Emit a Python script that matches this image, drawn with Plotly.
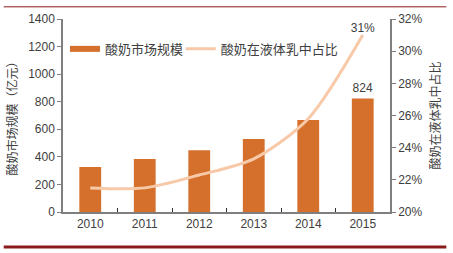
import plotly.graph_objects as go

years = ["2010", "2011", "2012", "2013", "2014", "2015"]
market_size = [327, 384, 448, 530, 668, 824]          # 亿元
share_pct = [21.5, 21.5, 22.3, 23.3, 25.8, 31.0]        # %

bar_name = "酸奶市场规模"
line_name = "酸奶在液体乳中占比"
left_title = "酸奶市场规模（亿元）"
right_title = "酸奶在液体乳中占比"

BAR_COLOR = "#D4702B"
LINE_COLOR = "#F8C9A8"
TXT = "#404040"
AX = "#7F7F7F"
CJK = "Noto Sans CJK SC"
LAT = "Liberation Sans, Arial"

bar_text = ["" for _ in market_size[:-1]] + [str(market_size[-1])]
line_text = ["" for _ in share_pct[:-1]] + [f"{share_pct[-1]:.0f}%"]

fig = go.Figure()
fig.add_trace(go.Bar(
    x=years, y=market_size, width=0.4, marker_color=BAR_COLOR,
    marker_line_width=0, showlegend=False, text=bar_text,
    textposition="outside", textfont=dict(family=LAT, size=12, color=TXT),
    cliponaxis=False, yaxis="y"))
fig.add_trace(go.Scatter(
    x=years, y=share_pct, mode="lines+text", line=dict(color=LINE_COLOR, width=3, shape="spline", smoothing=0.8),
    text=line_text, textposition="top center", textfont=dict(family=LAT, size=12, color=TXT),
    cliponaxis=False, showlegend=False, yaxis="y2"))
# legend entries
fig.add_trace(go.Scatter(x=[None], y=[None], mode="lines", name=bar_name,
                         line=dict(color=BAR_COLOR, width=6), yaxis="y", legend="legend"))
fig.add_trace(go.Scatter(x=[None], y=[None], mode="lines", name=line_name,
                         line=dict(color=LINE_COLOR, width=3), yaxis="y2", legend="legend2"))

leg_common = dict(orientation="h", y=0.845, xanchor="left", yanchor="middle",
                  bgcolor="rgba(0,0,0,0)", itemwidth=30,
                  font=dict(family=CJK, size=13, color=TXT))

fig.update_layout(
    width=453, height=253,
    margin=dict(l=60, r=62, t=14, b=41),
    paper_bgcolor="white", plot_bgcolor="white",
    bargap=0.6,
    font=dict(family=LAT, size=12, color=TXT),
    xaxis=dict(type="category", showline=True, linecolor=AX, linewidth=1.5,
               ticks="inside", ticklen=4, tickcolor="#333", tickson="boundaries",
               tickfont=dict(family=LAT, size=12, color=TXT), showgrid=False),
    yaxis=dict(range=[0, 1400], dtick=200, showline=True, linecolor=AX, linewidth=1.5,
               ticks="outside", ticklen=4, tickcolor=AX, showgrid=False, zeroline=False,
               tickfont=dict(family=LAT, size=12, color=TXT),
               title=dict(text=left_title, font=dict(family=CJK, size=12, color=TXT), standoff=8)),
    yaxis2=dict(range=[20, 32], dtick=2, overlaying="y", side="right", showline=True,
                linecolor=AX, linewidth=1.5, ticks="outside", ticklen=4, tickcolor=AX,
                ticksuffix="%", showgrid=False, zeroline=False,
                tickfont=dict(family=LAT, size=12, color=TXT),
                title=dict(text=right_title, font=dict(family=CJK, size=12, color=TXT), standoff=10)),
    legend=dict(x=0.006, **leg_common),
    legend2=dict(x=0.36, **leg_common),
    shapes=[
        dict(type="line", xref="paper", yref="paper", x0=-60/331, x1=1 + 57/331,
             y0=1 + 12.5/198, y1=1 + 12.5/198, line=dict(color="#8B1A1A", width=1)),
        dict(type="line", xref="paper", yref="paper", x0=-60/331, x1=1 + 57/331,
             y0=-36/198, y1=-36/198, line=dict(color="#8B1A1A", width=3)),
    ],
)

fig.write_html("out.html")
